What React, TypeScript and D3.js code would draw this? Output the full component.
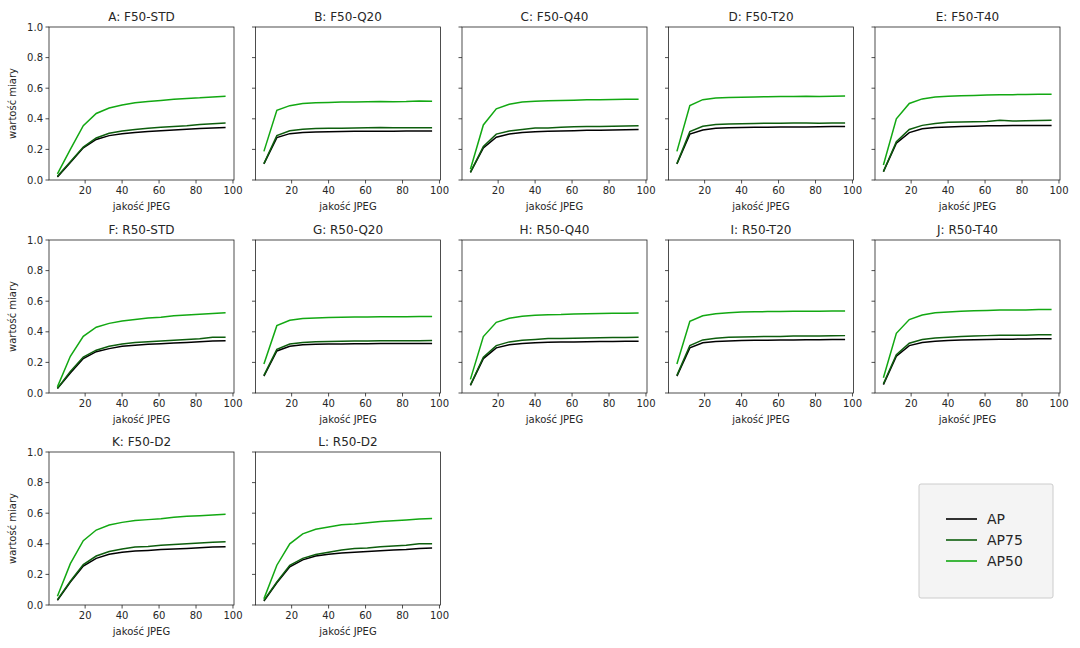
import * as d3 from "d3";

const quality = [5, 12, 19, 26, 33, 40, 47, 54, 61, 68, 75, 82, 89, 96];

const titles = [
  "A: F50-STD", "B: F50-Q20", "C: F50-Q40", "D: F50-T20", "E: F50-T40",
  "F: R50-STD", "G: R50-Q20", "H: R50-Q40", "I: R50-T20", "J: R50-T40",
  "K: F50-D2", "L: R50-D2",
];

// AP per panel
const apValues = [
  [0.02, 0.115, 0.21, 0.265, 0.29, 0.302, 0.31, 0.317, 0.322, 0.327, 0.332, 0.336, 0.34, 0.343],
  [0.105, 0.277, 0.303, 0.31, 0.314, 0.316, 0.317, 0.318, 0.318, 0.319, 0.319, 0.32, 0.32, 0.32],
  [0.05, 0.21, 0.28, 0.3, 0.31, 0.315, 0.318, 0.32, 0.322, 0.325, 0.325, 0.327, 0.328, 0.33],
  [0.105, 0.3, 0.327, 0.338, 0.341, 0.343, 0.344, 0.345, 0.346, 0.347, 0.347, 0.348, 0.349, 0.349],
  [0.055, 0.24, 0.31, 0.335, 0.343, 0.347, 0.35, 0.352, 0.354, 0.355, 0.356, 0.356, 0.357, 0.357],
  [0.03, 0.13, 0.225, 0.27, 0.29, 0.305, 0.312, 0.318, 0.322, 0.326, 0.33, 0.335, 0.34, 0.342],
  [0.11, 0.275, 0.305, 0.315, 0.318, 0.32, 0.32, 0.322, 0.322, 0.323, 0.323, 0.323, 0.324, 0.324],
  [0.05, 0.225, 0.295, 0.315, 0.323, 0.328, 0.332, 0.333, 0.334, 0.335, 0.336, 0.337, 0.338, 0.338],
  [0.11, 0.295, 0.328, 0.336, 0.34, 0.343, 0.344, 0.345, 0.346, 0.347, 0.348, 0.348, 0.349, 0.349],
  [0.055, 0.24, 0.31, 0.33, 0.338, 0.343, 0.346, 0.348, 0.35, 0.352, 0.352, 0.353, 0.354, 0.355],
  [0.03, 0.15, 0.255, 0.305, 0.331, 0.344, 0.353, 0.357, 0.362, 0.366, 0.37, 0.374, 0.379, 0.381],
  [0.025, 0.145, 0.25, 0.295, 0.32, 0.332, 0.34, 0.345, 0.35, 0.355, 0.36, 0.363, 0.37, 0.372],
];

// AP75 per panel
const ap75Values = [
  [0.025, 0.12, 0.215, 0.275, 0.305, 0.32, 0.33, 0.338, 0.345, 0.35, 0.355, 0.362, 0.368, 0.373],
  [0.107, 0.29, 0.322, 0.332, 0.336, 0.338, 0.339, 0.34, 0.341, 0.343, 0.342, 0.341, 0.342, 0.342],
  [0.05, 0.22, 0.3, 0.32, 0.33, 0.34, 0.34, 0.345, 0.348, 0.35, 0.35, 0.352, 0.353, 0.355],
  [0.107, 0.316, 0.351, 0.362, 0.366, 0.368, 0.37, 0.371, 0.371, 0.372, 0.372, 0.371, 0.372, 0.372],
  [0.055, 0.25, 0.33, 0.357, 0.37, 0.377, 0.379, 0.381, 0.382, 0.39, 0.386, 0.387, 0.389, 0.39],
  [0.03, 0.14, 0.235, 0.28, 0.305, 0.32, 0.33, 0.335, 0.34, 0.345, 0.35, 0.355, 0.365, 0.365],
  [0.115, 0.285, 0.32, 0.33, 0.335, 0.337, 0.338, 0.34, 0.34, 0.342, 0.342, 0.342, 0.342, 0.343],
  [0.052, 0.234, 0.31, 0.334, 0.345, 0.35, 0.356, 0.357, 0.358, 0.36, 0.361, 0.362, 0.363, 0.364],
  [0.115, 0.31, 0.347, 0.358, 0.364, 0.366, 0.368, 0.369, 0.37, 0.372, 0.373, 0.373, 0.374, 0.375],
  [0.06, 0.25, 0.325, 0.35, 0.36, 0.365, 0.37, 0.372, 0.375, 0.377, 0.378, 0.378, 0.38, 0.38],
  [0.035, 0.155, 0.264, 0.32, 0.35, 0.366, 0.379, 0.383, 0.39, 0.396, 0.4, 0.405, 0.41, 0.414],
  [0.03, 0.15, 0.26, 0.305, 0.33, 0.345, 0.36, 0.37, 0.372, 0.38, 0.385, 0.39, 0.4, 0.4],
];

// AP50 per panel
const ap50Values = [
  [0.04, 0.2, 0.355, 0.435, 0.47, 0.49, 0.505, 0.513, 0.52, 0.527, 0.533, 0.537, 0.543, 0.548],
  [0.187, 0.455, 0.486, 0.5, 0.505, 0.507, 0.509, 0.51, 0.511, 0.513, 0.512, 0.513, 0.516, 0.515],
  [0.07, 0.36, 0.465, 0.495, 0.51, 0.515, 0.518, 0.52, 0.522, 0.525, 0.525, 0.526, 0.527, 0.528],
  [0.187, 0.486, 0.525, 0.536, 0.539, 0.541, 0.543, 0.544, 0.545, 0.546, 0.547, 0.546, 0.548, 0.549],
  [0.098, 0.4, 0.5, 0.53, 0.542, 0.547, 0.55, 0.553, 0.555, 0.557, 0.558, 0.559, 0.56, 0.56],
  [0.04, 0.24, 0.37, 0.43, 0.455, 0.47, 0.48, 0.49, 0.495, 0.505, 0.51, 0.515, 0.52, 0.525],
  [0.19, 0.44, 0.475, 0.487, 0.49, 0.493, 0.495, 0.496, 0.497, 0.498, 0.498, 0.499, 0.5, 0.5],
  [0.089, 0.369, 0.462, 0.488, 0.501, 0.508, 0.512, 0.513, 0.516, 0.518, 0.52, 0.521, 0.522, 0.523],
  [0.19, 0.469, 0.505, 0.518, 0.525, 0.53, 0.531, 0.532, 0.533, 0.535, 0.535, 0.535, 0.536, 0.536],
  [0.1, 0.39, 0.48, 0.51, 0.525, 0.53, 0.535, 0.538, 0.54, 0.542, 0.543, 0.543, 0.545, 0.545],
  [0.057, 0.27, 0.42, 0.49, 0.523, 0.54, 0.553, 0.558, 0.564, 0.573, 0.58, 0.584, 0.588, 0.593],
  [0.04, 0.26, 0.4, 0.465, 0.495, 0.51, 0.525, 0.53, 0.538, 0.545, 0.55, 0.556, 0.562, 0.566],
];

const seriesNames = ["AP", "AP75", "AP50"];
const seriesColors = ["#000000", "#0d5e0d", "#12a812"];
const xTicks = [20, 40, 60, 80, 100];
const yTicks = [0, 0.2, 0.4, 0.6, 0.8, 1.0];

const W = 1080;
const H = 648;
const panelW = 185;
const panelH = 153;
const colLeft = [49, 255.5, 462, 668.5, 875];
const rowTop = [27, 240, 452];
const FONT = "'DejaVu Sans', sans-serif";
const TXT = "#262626";

function Panel({ idx }: { idx: number }) {
  const col = idx % 5;
  const row = Math.floor(idx / 5);
  const left = colLeft[col];
  const top = rowTop[row];
  const x = d3.scaleLinear().domain([0.45, 100.55]).range([0, panelW]);
  const y = d3.scaleLinear().domain([0, 1]).range([panelH, 0]);
  const line = d3
    .line<number>()
    .x((_, i) => x(quality[i]))
    .y((d) => y(d));
  const data = [apValues[idx], ap75Values[idx], ap50Values[idx]];
  return (
    <g transform={`translate(${left},${top})`}>
      <text x={panelW / 2} y={-6} textAnchor="middle" fontSize={12} fill={TXT}>
        {titles[idx]}
      </text>
      {data.map((d, i) => (
        <path key={i} d={line(d) || ""} fill="none" stroke={seriesColors[i]} strokeWidth={1.5} />
      ))}
      <rect x={0} y={0} width={panelW} height={panelH} fill="none" stroke="#222" strokeWidth={0.8} />
      {xTicks.map((t) => (
        <g key={t} transform={`translate(${x(t)},${panelH})`}>
          <line y2={3.5} stroke="#222" strokeWidth={0.8} />
          <text y={14} textAnchor="middle" fontSize={10} fill={TXT}>
            {t}
          </text>
        </g>
      ))}
      <text x={panelW / 2} y={panelH + 30} textAnchor="middle" fontSize={10} fill={TXT}>
        jakość JPEG
      </text>
      {yTicks.map((t) => (
        <g key={t} transform={`translate(0,${y(t)})`}>
          <line x2={-3.5} stroke="#222" strokeWidth={0.8} />
          {col === 0 && (
            <text x={-6} dy="0.35em" textAnchor="end" fontSize={10} fill={TXT}>
              {t.toFixed(1)}
            </text>
          )}
        </g>
      ))}
      {col === 0 && (
        <text
          transform={`translate(-33,${panelH / 2}) rotate(-90)`}
          textAnchor="middle"
          fontSize={10}
          fill={TXT}
        >
          wartość miary
        </text>
      )}
    </g>
  );
}

export default function App() {
  return (
    <svg
      width={W}
      height={H}
      style={{ position: "absolute", left: 0, top: 0, background: "#fff" }}
      fontFamily={FONT}
    >
      <rect width={W} height={H} fill="#fff" />
      {titles.map((_, i) => (
        <Panel key={i} idx={i} />
      ))}
      <g transform="translate(919,484)">
        <rect width={134} height={114} rx={2} fill="#f4f4f4" stroke="#cccccc" strokeWidth={1} />
        {seriesNames.map((name, i) => (
          <g key={name} transform={`translate(27,${35 + i * 21})`}>
            <line x2={31} stroke={seriesColors[i]} strokeWidth={2} strokeOpacity={0.8} />
            <text x={41} dy="0.35em" fontSize={14} fill={TXT}>
              {name}
            </text>
          </g>
        ))}
      </g>
    </svg>
  );
}
